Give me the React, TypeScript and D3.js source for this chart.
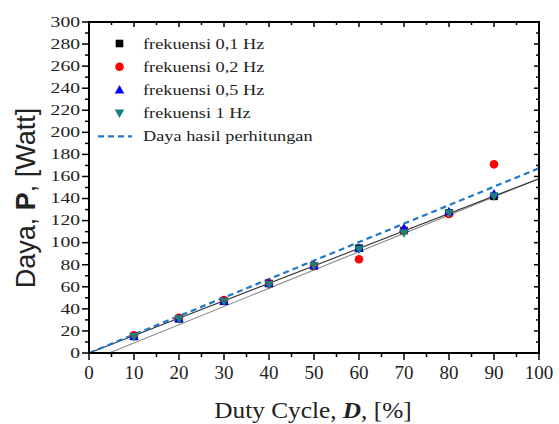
import React from "react";
import * as d3 from "d3";

const dutyCycle = [10, 20, 30, 40, 50, 60, 70, 80, 90];
const freq01 = [15, 31, 47, 63, 79, 95, 111, 127, 142];
const freq02 = [16, 32, 48, 63, 79, 85, 111, 126, 171];
const freq05 = [15, 31, 47, 63, 79, 95, 113, 128, 144];
const freq1 = [15, 31, 47, 62, 79, 94, 109, 127, 142];
const calcLine = [[0, 0], [100, 167.5]];
const fitLine = [[0, 0], [100, 158]];
const fitLine2 = [[4.5, 0], [100, 158]];
const xTicks = [0, 10, 20, 30, 40, 50, 60, 70, 80, 90, 100];
const yTicks = [0, 20, 40, 60, 80, 100, 120, 140, 160, 180, 200, 220, 240, 260, 280, 300];
const legendLabels = ["frekuensi 0,1 Hz", "frekuensi 0,2 Hz", "frekuensi 0,5 Hz", "frekuensi 1 Hz", "Daya hasil perhitungan"];

const W = 559, H = 424;
const L = 89, R = 539, T = 22, B = 353;
const serif = "'Liberation Serif', 'Times New Roman', serif";
const sans = "'Liberation Sans', Arial, sans-serif";
const teal = "#1b7f7a";

function Marker({ type, x, y }: { type: string; x: number; y: number }) {
  if (type === "sq") return <rect x={x - 3.8} y={y - 3.8} width={7.6} height={7.6} fill="#000" />;
  if (type === "ci") return <circle cx={x} cy={y} r={4.3} fill="#ff0000" />;
  if (type === "up") return <path d={`M${x},${y - 5} L${x + 4.8},${y + 3.5} L${x - 4.8},${y + 3.5} Z`} fill="#0000ff" />;
  return <path d={`M${x},${y + 5} L${x + 4.8},${y - 3.5} L${x - 4.8},${y - 3.5} Z`} fill={teal} />;
}

export default function App() {
  const x = d3.scaleLinear().domain([0, 100]).range([L, R]);
  const y = d3.scaleLinear().domain([0, 300]).range([B, T]);
  const line = d3.line<number[]>().x((d) => x(d[0])).y((d) => y(d[1]));
  const xMinor = d3.range(5, 100, 10);
  const yMinor = d3.range(10, 300, 20);
  const series: [string, number[]][] = [["sq", freq01], ["ci", freq02], ["up", freq05], ["dn", freq1]];
  const legTypes = ["sq", "ci", "up", "dn"];
  const legY0 = 43.5, legDy = 23.2;

  return (
    <svg width={W} height={H} style={{ position: "absolute", left: 0, top: 0, background: "#fff" }}>
      <rect width={W} height={H} fill="#fff" />
      {/* lines */}
      <path d={line(fitLine2) || ""} stroke="#8a8a8a" strokeWidth={1.1} fill="none" />
      <path d={line(fitLine) || ""} stroke="#333" strokeWidth={1.1} fill="none" />
      <path d={line(calcLine) || ""} stroke="#1f78c8" strokeWidth={2.2} strokeDasharray="6,4" fill="none" />
      {/* markers */}
      {series.map(([t, vals]) =>
        vals.map((v, i) => <Marker key={t + i} type={t} x={x(dutyCycle[i])} y={y(v)} />)
      )}
      {/* frame */}
      <rect x={L} y={T} width={R - L} height={B - T} fill="none" stroke="#000" strokeWidth={2} />
      {/* x ticks */}
      {xTicks.map((t) => (
        <g key={"x" + t}>
          <line x1={x(t)} x2={x(t)} y1={B} y2={B + 7} stroke="#000" strokeWidth={1.5} />
          <line x1={x(t)} x2={x(t)} y1={T} y2={T + 5} stroke="#000" strokeWidth={1.5} />
          <text x={x(t)} y={379} textAnchor="middle" fontFamily={serif} fontSize={19} fill="#222">{t}</text>
        </g>
      ))}
      {xMinor.map((t) => (
        <g key={"xm" + t}>
          <line x1={x(t)} x2={x(t)} y1={B} y2={B + 4} stroke="#000" strokeWidth={1.5} />
          <line x1={x(t)} x2={x(t)} y1={T} y2={T + 3} stroke="#000" strokeWidth={1.5} />
        </g>
      ))}
      {/* y ticks */}
      {yTicks.map((t) => (
        <g key={"y" + t}>
          <line x1={L - 7} x2={L} y1={y(t)} y2={y(t)} stroke="#000" strokeWidth={1.5} />
          <line x1={R - 5} x2={R} y1={y(t)} y2={y(t)} stroke="#000" strokeWidth={1.5} />
          <text transform={`translate(80,${y(t) + 4.8}) scale(1.4,1)`} textAnchor="end" fontFamily={serif} fontSize={14} fill="#222">{t}</text>
        </g>
      ))}
      {yMinor.map((t) => (
        <g key={"ym" + t}>
          <line x1={L - 4} x2={L} y1={y(t)} y2={y(t)} stroke="#000" strokeWidth={1.5} />
          <line x1={R - 3} x2={R} y1={y(t)} y2={y(t)} stroke="#000" strokeWidth={1.5} />
        </g>
      ))}
      {/* axis titles */}
      <text transform="translate(313,418) scale(1.1,1)" textAnchor="middle" fontFamily={serif} fontSize={23} fill="#222">
        Duty Cycle, <tspan fontWeight="bold" fontStyle="italic">D</tspan>, [%]
      </text>
      <text transform="translate(35,198) rotate(-90)" textAnchor="middle" fontFamily={sans} fontSize={27} fill="#222">
        Daya, <tspan fontWeight="bold">P</tspan>, [Watt]
      </text>
      {/* legend */}
      {legendLabels.map((lab, i) => {
        const cy = legY0 + i * legDy;
        return (
          <g key={"lg" + i}>
            {i < 4 ? (
              <Marker type={legTypes[i]} x={119.5} y={cy} />
            ) : (
              <line x1={98} x2={132} y1={cy} y2={cy} stroke="#1f78c8" strokeWidth={2.2} strokeDasharray="6,4" />
            )}
            <text transform={`translate(143,${cy + 5}) scale(1.22,1)`} fontFamily={serif} fontSize={15} fill="#222">{lab}</text>
          </g>
        );
      })}
    </svg>
  );
}
